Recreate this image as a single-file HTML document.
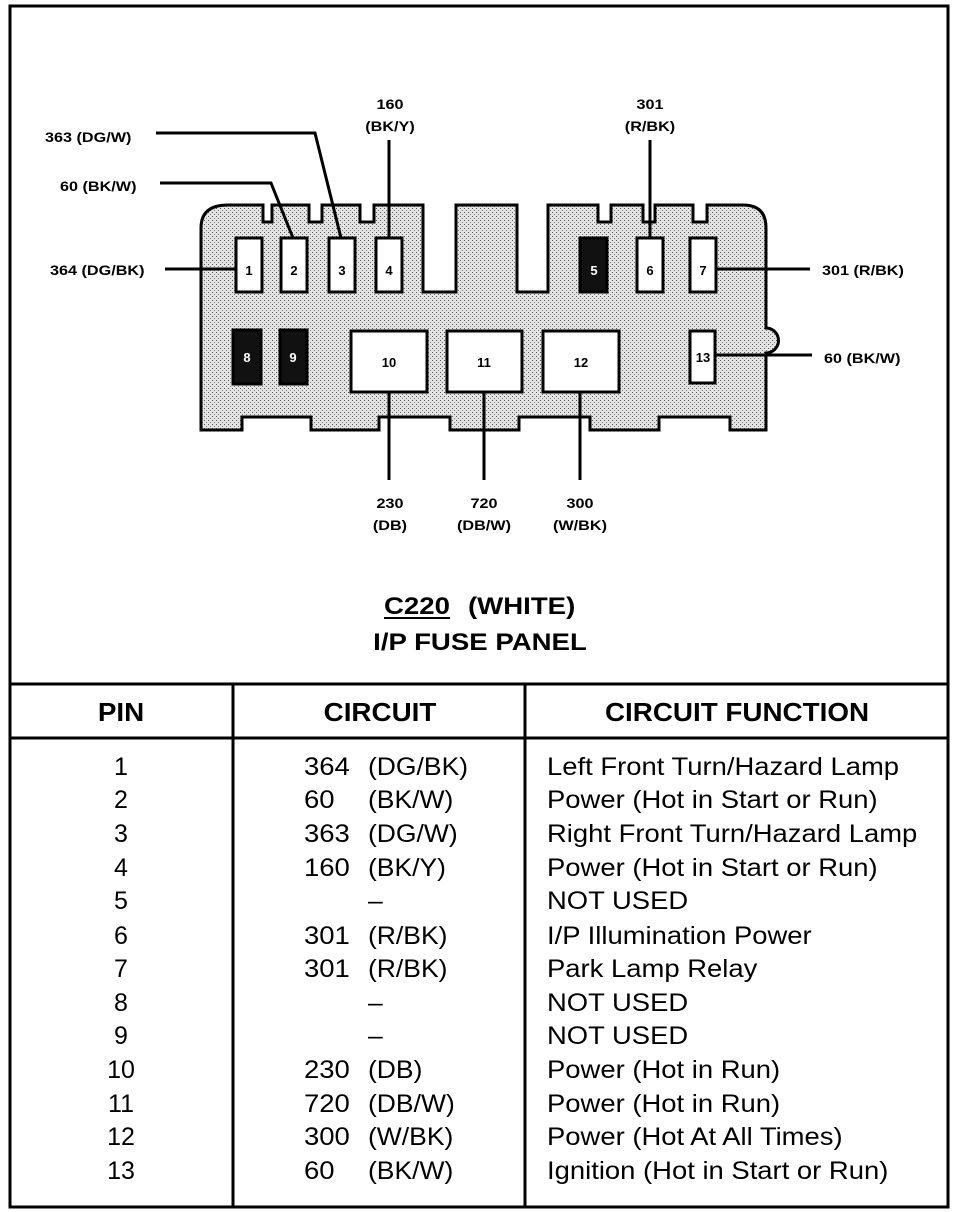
<!DOCTYPE html>
<html><head><meta charset="utf-8"><style>
html,body{margin:0;padding:0;background:#fff}
svg{display:block}
text{font-family:"Liberation Sans",Arial,sans-serif;fill:#000}
</style></head><body>
<svg width="960" height="1212" viewBox="0 0 960 1212" xmlns="http://www.w3.org/2000/svg">
<defs>
<pattern id="dots" width="4" height="4" patternUnits="userSpaceOnUse">
<rect width="4" height="4" fill="#e4e4e4"/>
<rect x="0" y="0" width="1" height="1" fill="#555"/>
<rect x="2" y="2" width="1" height="1" fill="#777"/>
</pattern>
</defs>
<rect x="10" y="6" width="938" height="1201" fill="none" stroke="#000" stroke-width="3"/>
<path d="M201,430 L201,228 Q201,205 228,205 L263,205 L263,222 L272,222 L272,205 L309,205 L309,222 L322,222 L322,205 L360,205 L360,222 L374,222 L374,205 L423,205 L423,292 L456,292 L456,205 L517,205 L517,292 L548,292 L548,205 L598,205 L598,222 L611,222 L611,205 L643,205 L643,222 L655,222 L655,205 L693,205 L693,222 L707,222 L707,205 L743,205 Q766,205 766,228 L766,328 A12,12 0 0 1 766,353 L766,430 L730,430 L730,417 L659,417 L659,430 L590,430 L590,417 L519,417 L519,430 L450,430 L450,417 L379,417 L379,430 L311,430 L311,417 L242,417 L242,430 Z" fill="url(#dots)" stroke="#000" stroke-width="3"/>
<g stroke="#000" stroke-width="3" fill="#fff">
<rect x="236" y="238" width="26" height="54"/>
<rect x="281" y="238" width="26" height="54"/>
<rect x="329" y="238" width="26" height="54"/>
<rect x="376" y="238" width="26" height="54"/>
<rect x="580" y="238" width="27" height="54" fill="#111"/>
<rect x="637" y="238" width="26" height="54"/>
<rect x="690" y="238" width="26" height="54"/>
<rect x="233" y="330" width="28" height="54" fill="#111"/>
<rect x="280" y="330" width="27" height="54" fill="#111"/>
<rect x="351" y="331" width="76" height="61"/>
<rect x="447" y="331" width="75" height="61"/>
<rect x="543" y="331" width="76" height="61"/>
<rect x="690" y="331" width="25" height="52"/>
</g>
<g font-size="13" font-weight="bold" text-anchor="middle">
<text x="249" y="275">1</text><text x="294" y="275">2</text><text x="342" y="275">3</text><text x="389" y="275">4</text>
<text x="594" y="275" style="fill:#fff">5</text><text x="650" y="275">6</text><text x="703" y="275">7</text>
<text x="247" y="362" style="fill:#fff">8</text><text x="293" y="362" style="fill:#fff">9</text>
<text x="389" y="367">10</text><text x="484" y="367">11</text><text x="581" y="367">12</text><text x="703" y="362">13</text>
</g>
<g stroke="#000" stroke-width="3" fill="none">
<line x1="165" y1="269" x2="236" y2="269"/>
<line x1="716" y1="269" x2="810" y2="269"/>
<line x1="716" y1="355" x2="812" y2="355"/>
<line x1="389" y1="392" x2="389" y2="480"/>
<line x1="484" y1="392" x2="484" y2="480"/>
<line x1="580" y1="392" x2="580" y2="480"/>
<line x1="389" y1="140" x2="389" y2="238"/>
<line x1="650" y1="140" x2="650" y2="238"/>
<polyline points="160,183 271,183 293,238"/>
<polyline points="156,133 315,133 341,238"/>
</g>
<g font-size="13.5" font-weight="bold">
<text x="45" y="142" transform="matrix(1.2 0 0 1 -9 0)">363 (DG/W)</text>
<text x="60" y="191" transform="matrix(1.2 0 0 1 -12 0)">60 (BK/W)</text>
<text x="50" y="275" transform="matrix(1.2 0 0 1 -10 0)">364 (DG/BK)</text>
<text x="822" y="275" transform="matrix(1.2 0 0 1 -164.4 0)">301 (R/BK)</text>
<text x="824" y="363" transform="matrix(1.2 0 0 1 -164.8 0)">60 (BK/W)</text>
</g>
<g font-size="13.5" font-weight="bold" text-anchor="middle">
<g transform="matrix(1.2 0 0 1 -78 0)"><text x="390" y="109">160</text><text x="390" y="131">(BK/Y)</text><text x="390" y="508">230</text><text x="390" y="530">(DB)</text></g>
<g transform="matrix(1.2 0 0 1 -130 0)"><text x="650" y="109">301</text><text x="650" y="131">(R/BK)</text></g>
<g transform="matrix(1.2 0 0 1 -96.8 0)"><text x="484" y="508">720</text><text x="484" y="530">(DB/W)</text></g>
<g transform="matrix(1.2 0 0 1 -116 0)"><text x="580" y="508">300</text><text x="580" y="530">(W/BK)</text></g>
</g>
<g font-size="24" font-weight="bold">
<text x="384" y="614" transform="matrix(1.15 0 0 1 -57.6 0)">C220</text>
<line x1="384" y1="618" x2="450" y2="618" stroke="#000" stroke-width="2"/>
<text x="468" y="614" transform="matrix(1.15 0 0 1 -70.2 0)">(WHITE)</text>
<text x="480" y="650" text-anchor="middle" transform="matrix(1.15 0 0 1 -72 0)">I/P FUSE PANEL</text>
</g>
<g stroke="#000" stroke-width="3">
<line x1="10" y1="684" x2="948" y2="684"/>
<line x1="10" y1="738" x2="948" y2="738"/>
<line x1="233" y1="684" x2="233" y2="1207"/>
<line x1="525" y1="684" x2="525" y2="1207"/>
</g>
<g font-size="26" font-weight="bold" text-anchor="middle">
<text x="121" y="721" transform="matrix(1.07 0 0 1 -8.47 0)">PIN</text>
<text x="380" y="721" transform="matrix(1.07 0 0 1 -26.6 0)">CIRCUIT</text>
<text x="737" y="721" transform="matrix(1.07 0 0 1 -51.59 0)">CIRCUIT FUNCTION</text>
</g>
<g font-size="25">
<g text-anchor="middle">
<text x="121" y="775">1</text><text x="121" y="808">2</text><text x="121" y="842">3</text><text x="121" y="876">4</text>
<text x="121" y="909">5</text><text x="121" y="944">6</text><text x="121" y="977">7</text><text x="121" y="1011">8</text>
<text x="121" y="1044">9</text><text x="121" y="1078">10</text><text x="121" y="1112">11</text><text x="121" y="1145">12</text><text x="121" y="1179">13</text>
</g>
<g transform="matrix(1.1 0 0 1 -30.4 0)">
<text x="304" y="775">364</text>
<text x="304" y="808">60</text>
<text x="304" y="842">363</text>
<text x="304" y="876">160</text>
<text x="304" y="944">301</text>
<text x="304" y="977">301</text>
<text x="304" y="1078">230</text>
<text x="304" y="1112">720</text>
<text x="304" y="1145">300</text>
<text x="304" y="1179">60</text>
</g>
<g transform="matrix(1.06 0 0 1 -22.08 0)">
<text x="368" y="775">(DG/BK)</text>
<text x="368" y="808">(BK/W)</text>
<text x="368" y="842">(DG/W)</text>
<text x="368" y="876">(BK/Y)</text>
<text x="368" y="909">–</text>
<text x="368" y="944">(R/BK)</text>
<text x="368" y="977">(R/BK)</text>
<text x="368" y="1011">–</text>
<text x="368" y="1044">–</text>
<text x="368" y="1078">(DB)</text>
<text x="368" y="1112">(DB/W)</text>
<text x="368" y="1145">(W/BK)</text>
<text x="368" y="1179">(BK/W)</text>
</g>
<g transform="matrix(1.097 0 0 1 -53.06 0)">
<text x="547" y="775">Left Front Turn/Hazard Lamp</text>
<text x="547" y="808">Power (Hot in Start or Run)</text>
<text x="547" y="842">Right Front Turn/Hazard Lamp</text>
<text x="547" y="876">Power (Hot in Start or Run)</text>
<text x="547" y="909">NOT USED</text>
<text x="547" y="944">I/P Illumination Power</text>
<text x="547" y="977">Park Lamp Relay</text>
<text x="547" y="1011">NOT USED</text>
<text x="547" y="1044">NOT USED</text>
<text x="547" y="1078">Power (Hot in Run)</text>
<text x="547" y="1112">Power (Hot in Run)</text>
<text x="547" y="1145">Power (Hot At All Times)</text>
<text x="547" y="1179">Ignition (Hot in Start or Run)</text>
</g>
</g>
</svg>
</body></html>
